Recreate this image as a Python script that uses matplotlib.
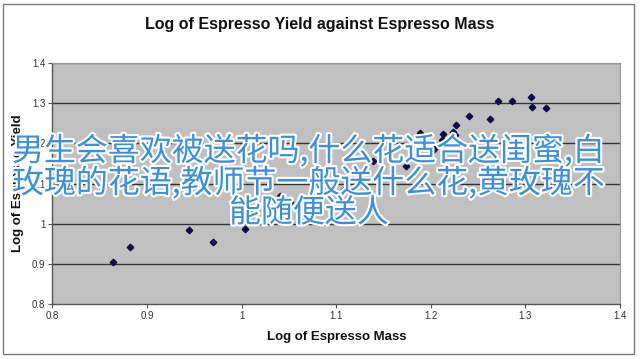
import matplotlib
matplotlib.use("Agg")
import matplotlib.pyplot as plt
import matplotlib.patheffects as pe
from matplotlib.patches import Rectangle

# Data
log_mass = [0.864, 0.882, 0.945, 0.970, 1.004, 1.012, 1.026, 1.041, 1.051, 1.041,
            1.078, 1.108, 1.139, 1.174, 1.189, 1.201, 1.204, 1.211, 1.212, 1.213,
            1.223, 1.226, 1.227, 1.233, 1.240, 1.263, 1.271, 1.286, 1.306, 1.307,
            1.322]
log_yield = [0.905, 0.942, 0.985, 0.954, 0.987, 1.038, 1.057, 1.069, 1.054, 1.035,
             1.035, 1.084, 1.156, 1.144, 1.225, 1.182, 1.188, 1.198, 1.209, 1.224,
             1.229, 1.221, 1.246, 1.198, 1.267, 1.261, 1.306, 1.305, 1.315, 1.290,
             1.288]
x_ticks = [0.8, 0.9, 1.0, 1.1, 1.2, 1.3, 1.4]
x_labels = ["0.8", "0.9", "1", "1.1", "1.2", "1.3", "1.4"]
y_ticks = [0.8, 0.9, 1.0, 1.1, 1.2, 1.3, 1.4]
y_labels = ["0.8", "0.9", "1", "1.1", "1.2", "1.3", "1.4"]

title = "Log of Espresso Yield against Espresso Mass"
xlabel = "Log of Espresso Mass"
ylabel = "Log of Espresso Yield"
overlay_lines = ["男生会喜欢被送花吗,什么花适合送闺蜜,白",
                 "玫瑰的花语,教师节一般送什么花,黄玫瑰不",
                 "能随便送人"]

plt.rcParams['font.family'] = ['Liberation Sans', 'DejaVu Sans']

W, H = 640, 359
fig = plt.figure(figsize=(W / 100, H / 100), dpi=100)
fig.patch.set_facecolor("white")

# outer chart border
fig.add_artist(Rectangle((3 / W, 1 - 354 / H), 631 / W, 350 / H,
                         transform=fig.transFigure, fill=False,
                         edgecolor="#7a7a7a", linewidth=1.0))

ax = fig.add_axes([52.3 / W, 1 - 304.3 / H, (620 - 52.3) / W, (304.3 - 63) / H])
ax.set_facecolor("#c0c0c0")
ax.set_xlim(0.8, 1.4)
ax.set_ylim(0.8, 1.4)
ax.set_xticks(x_ticks)
ax.set_xticklabels(x_labels)
ax.set_yticks(y_ticks)
ax.set_yticklabels(y_labels)
for yv in y_ticks[1:-1]:
    ax.axhline(yv, color="#333333", linewidth=1.0, zorder=1)
ax.axhline(1.4, color="#555555", linewidth=1.0, zorder=1)

for s in ["left", "bottom"]:
    ax.spines[s].set_color("#555555")
    ax.spines[s].set_linewidth(1.0)
for s in ["top", "right"]:
    ax.spines[s].set_color("#9a9a9a")
    ax.spines[s].set_linewidth(0.8)

ax.tick_params(axis="both", direction="out", length=3, width=0.8,
               color="#555555", labelsize=7, labelcolor="#333333", pad=2)

ax.plot(log_mass, log_yield, linestyle="none", marker="D", markersize=3.3,
        color="#0b0b4a", zorder=3)

fig.text(320 / W, 1 - 25 / H, title, ha="center", va="center",
         fontsize=11.5, fontweight="bold", color="#111111")
fig.text(337 / W, 1 - 337 / H, xlabel, ha="center", va="center",
         fontsize=9.5, fontweight="bold", color="#111111")
fig.text(18 / W, 1 - 183 / H, ylabel, ha="center", va="center",
         fontsize=9.5, fontweight="bold", color="#111111", rotation=90)

# overlay watermark text
ys = [151, 183, 213]
for line, yy in zip(overlay_lines, ys):
    fig.text(309 / W, 1 - yy / H, line, ha="center", va="center",
             fontsize=23, color="#3a8fe4",
             family=['Noto Sans CJK SC', 'DejaVu Sans'],
             path_effects=[pe.withStroke(linewidth=3, foreground="white")],
             zorder=10)

fig.savefig("out.png", dpi=100)
